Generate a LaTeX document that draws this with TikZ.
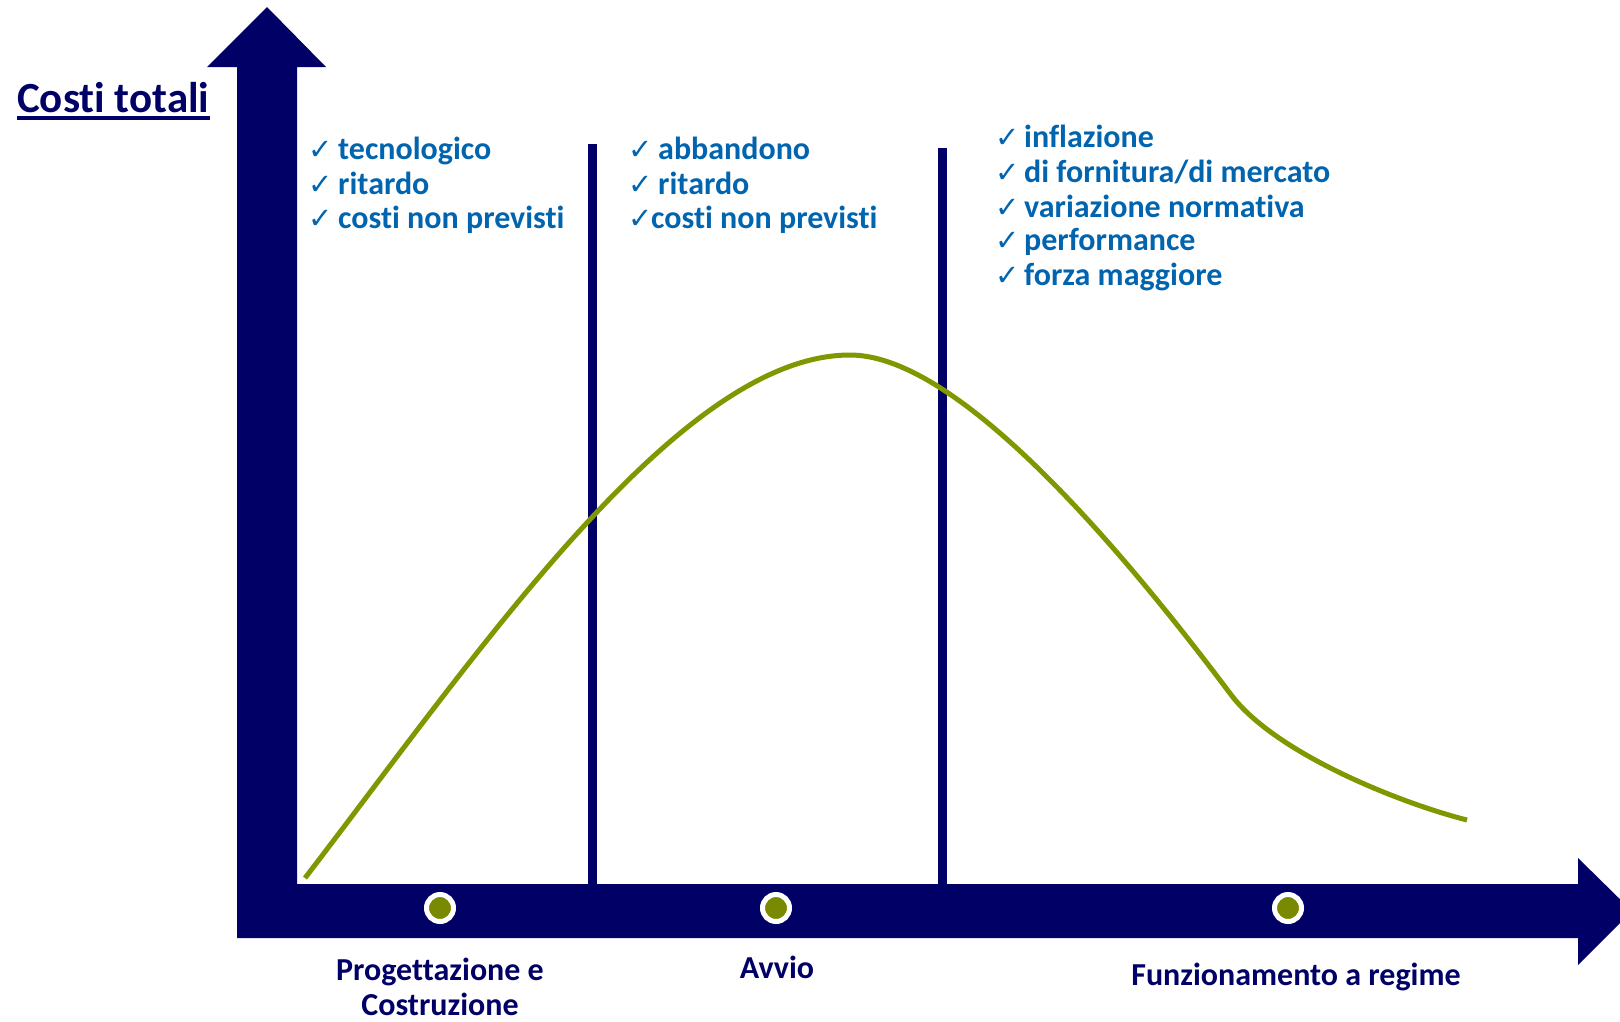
\documentclass[tikz,border=0pt]{standalone}
\usepackage{fontspec}
\setmainfont{Carlito}[Ligatures=NoCommon]
\newfontfamily\chkfont{DejaVu Sans}
\definecolor{axisblue}{RGB}{0,0,102}
\definecolor{riskblue}{RGB}{0,100,175}
\definecolor{curvegreen}{RGB}{127,152,0}
\definecolor{dotgreen}{RGB}{122,138,0}
\newcommand{\chk}[1][30pt]{\makebox[#1][l]{\chkfont\fontsize{29}{29}\selectfont ✓}}

\begin{document}
\begin{tikzpicture}[x=1pt, y=-1pt,
    axis/.style={fill=axisblue, draw=none},
    risk/.style={anchor=base west, inner sep=0pt, text=riskblue, font=\bfseries\fontsize{32}{34}\selectfont},
    stage/.style={anchor=base, align=center, inner sep=0pt, text=axisblue, font=\bfseries\fontsize{32}{35}\selectfont},
    dot/.style={circle, fill=dotgreen, draw=white, line width=5pt, minimum size=27pt, inner sep=0pt}]
    \clip (0,0) rectangle (1620,1021);

    % Axes
    \fill[axis] (237,67) -- (207,67) -- (267,7) -- (326,67) -- (297,67) -- (297,884)
        -- (1578,884) -- (1578,858) -- (1632,911) -- (1578,965) -- (1578,938) -- (237,938) -- cycle;

    % Phase separators
    \fill[axis] (588,144) rectangle (597,884);
    \fill[axis] (938,148) rectangle (947,884);

    % Cost curve
    \draw[curvegreen, line width=5pt] (305,878) .. controls (480,650) and (680,355) .. (850,355)
        .. controls (950,355) and (1100,520) .. (1232,696)
        .. controls (1277,754) and (1400,803) .. (1467,820);

    % Title
    \node[anchor=base west, inner sep=0pt, text=axisblue, font=\bfseries\fontsize{43}{43}\selectfont] (title) at (17,112) {Costi totali};
    \draw[axisblue, line width=3.5pt] ([yshift=-6pt]title.base west) -- ([yshift=-6pt]title.base east);

    % Risks per phase
    \node[risk] (r11) at (308,159) {\chk tecnologico};
    \node[risk] (r12) at (308,194) {\chk ritardo};
    \node[risk] (r13) at (308,228) {\chk costi non previsti};

    \node[risk] (r21) at (628,159) {\chk abbandono};
    \node[risk] (r22) at (628,194) {\chk ritardo};
    \node[risk] (r23) at (628,228) {\chk[23pt]costi non previsti};

    \node[risk] (r31) at (995,147) {\chk[29pt]inflazione};
    \node[risk] (r32) at (995,182) {\chk[29pt]di fornitura/di mercato};
    \node[risk] (r33) at (995,217) {\chk[29pt]variazione normativa};
    \node[risk] (r34) at (995,250) {\chk[29pt]performance};
    \node[risk] (r35) at (995,285) {\chk[29pt]forza maggiore};

    % Phases
    \node[dot] (d1) at (440,908) {};
    \node[dot] (d2) at (776,908) {};
    \node[dot] (d3) at (1288,908) {};
    \node[stage] (s1) at (440,1015) {Progettazione e\\Costruzione};
    \node[stage] (s2) at (777,978) {Avvio};
    \node[stage] (s3) at (1296,985) {Funzionamento a regime};
\end{tikzpicture}
\end{document}
